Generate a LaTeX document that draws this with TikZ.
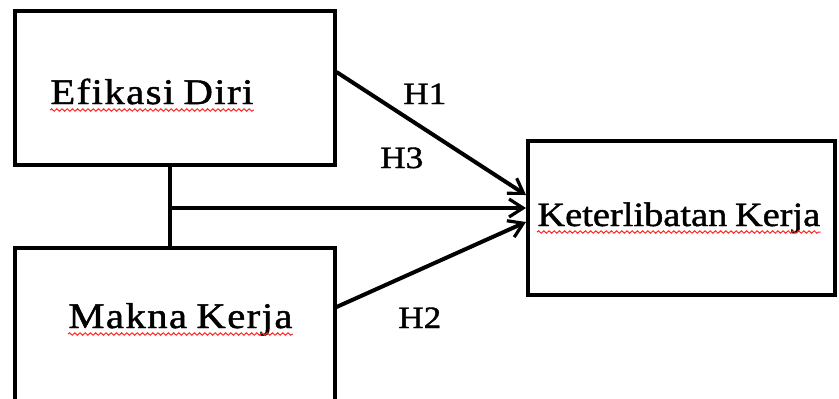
\documentclass[tikz,border=0pt]{standalone}
\usepackage{fontspec}
\setmainfont{Liberation Serif}[FakeStretch=1.13, FakeBold=1.3, WordSpace=0.8]
\usetikzlibrary{arrows.meta,decorations.pathmorphing,calc}

\tikzset{
  varbox/.style={draw, line width=2pt, minimum width=160pt, minimum height=77pt, inner sep=0pt},
  vartext/.style={anchor=base west, inner sep=0pt, font=\fontsize{17}{19}\selectfont},
  widetext/.style={vartext, font=\fontsize{18}{20}\selectfont\addfontfeature{LetterSpace=4}},
  hyplabel/.style={anchor=base west, inner sep=0pt, font=\fontsize{15.5}{18}\selectfont},
  hyparrow/.style={line width=2pt, -{Straight Barb[length=7pt, width=9pt, line width=1.6pt]}},
  typo/.style={red!85, line width=0.5pt, decorate, decoration={snake, segment length=2.6pt, amplitude=0.6pt}}
}

\begin{document}
\begin{tikzpicture}[x=0.5pt, y=-0.5pt]
  \clip (0,0) rectangle (839,398);
  % boxes
  \node[varbox] (efikasi) at (174.5,88) {};
  \node[varbox] (makna) at (174.5,325) {};
  \node[varbox, minimum width=153.5pt] (terlibat) at (681.5,218) {};
  % texts in the boxes
  \node[widetext] (tEfikasi) at (50,104) {Efikasi Diri};
  \node[widetext] (tMakna) at (68,328) {Makna Kerja};
  \node[vartext] (tTerlibat) at (537,226) {Keterlibatan Kerja};
  \foreach \t in {tEfikasi, tMakna, tTerlibat}
    \draw[typo] ($(\t.base west)+(0,6)$) -- ($(\t.base east)+(0,6)$);
  % end points of the paths
  \coordinate (j) at (170,208);
  \coordinate (e1) at (efikasi.east |- 0,72);
  \coordinate (e2) at (makna.east |- 0,307);
  \coordinate (t1) at (terlibat.west |- 0,195);
  \coordinate (t3) at (terlibat.west |- j);
  \coordinate (t2) at (terlibat.west |- 0,222);
  \draw[line width=2pt] (efikasi.south -| j) -- (makna.north -| j);
  \draw[hyparrow] (e1) -- (t1);
  \draw[hyparrow] (j) -- (t3);
  \draw[hyparrow] (e2) -- (t2);
  % hypotheses
  \node[hyplabel] (h1) at (403,104) {H1};
  \node[hyplabel] (h3) at (380,168) {H3};
  \node[hyplabel] (h2) at (398,328) {H2};
\end{tikzpicture}
\end{document}
